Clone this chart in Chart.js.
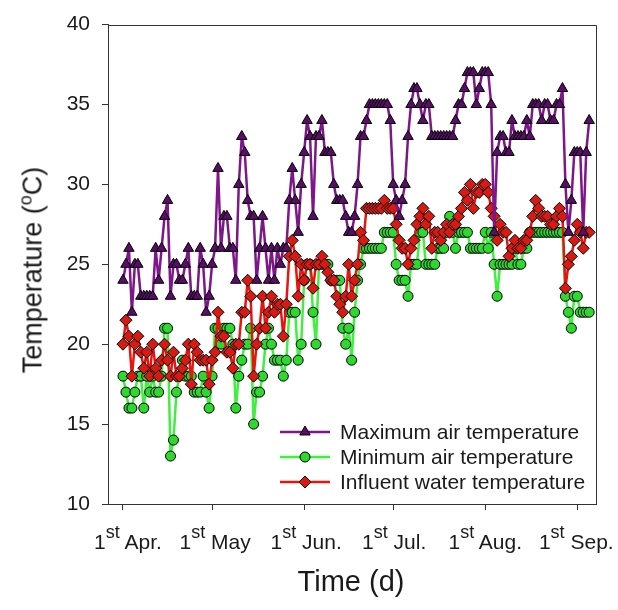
<!DOCTYPE html>
<html>
<head>
<meta charset="utf-8">
<script src="https://cdn.jsdelivr.net/npm/chart.js@4.4.1/dist/chart.umd.min.js"></script>
<style>
  html, body { margin: 0; padding: 0; background: #fff; }
  #wrap { position: relative; width: 618px; height: 610px; font-family: 'Liberation Sans', Arial, sans-serif; color: #1a1a1a; overflow: hidden; }
  canvas { position: absolute; left: 0; top: 0; }
  .xlab { position: absolute; top: 531px; font-size: 21px; line-height: 22px; white-space: nowrap; transform: translateX(-50%); }
  .sup { position: relative; font-size: 18px; top: -11px; }
  #ytitle { position: absolute; left: 34px; top: 270px; font-size: 27px; line-height: 30px; white-space: nowrap; transform: translate(-50%, -50%) rotate(-90deg); }
  #ytitle .sup { font-size: 18px; top: -10px; }
  #xtitle { position: absolute; left: 351px; top: 565px; font-size: 29px; line-height: 32px; white-space: nowrap; transform: translateX(-50%); }
  .leg { position: absolute; left: 279px; height: 24px; white-space: nowrap; }
  .leg svg { position: absolute; left: 0; top: 0; }
  .leg span { position: absolute; left: 61px; top: 0; font-size: 21px; line-height: 24px; }
</style>
</head>
<body>
<div id="wrap">
  <canvas id="c" width="618" height="610"></canvas>
  <div id="ytitle">Temperature (<span class="sup">o</span>C)</div>
  <div id="xtitle">Time (d)</div>
</div>
<script>
// days counted from 1st April
const monthTickDays = [0, 30, 61, 91, 122, 153];
const monthTickLabels = ['Apr.', 'May', 'Jun.', 'Jul.', 'Aug.', 'Sep.'];
const yTicks = [10, 15, 20, 25, 30, 35, 40];

const seriesNames = ['Maximum air temperature', 'Minimum air temperature', 'Influent water temperature'];

// daily values, 1st Apr -> early Sep
const maxAir = [
  24, 25, 26, 22, 25, 25, 23, 23, 23, 23, 23, 26, 24, 26, 28, 29, 23, 25, 25, 24,
  24, 25, 26, 23, 23, 23, 26, 25, 22, 23, 25, 26, 31, 26, 28, 28, 26, 26, 24, 30,
  33, 32, 29, 28, 28, 24, 26, 28, 26, 24, 26, 24, 26, 25, 26, 26, 29, 31, 29, 27,
  30, 32, 34, 33, 28, 33, 33, 34, 32, 32, 32, 30, 29, 29, 29, 28, 27, 27, 28, 30,
  33, 33, 34, 35, 35, 35, 35, 35, 35, 35, 34, 30, 29, 28, 29, 30, 33, 35, 36, 36,
  35, 34, 35, 35, 33, 33, 33, 33, 33, 33, 33, 33, 34, 35, 35, 36, 37, 37, 37, 35,
  36, 37, 37, 37, 35, 27, 32, 33, 33, 32, 32, 34, 33, 33, 33, 33, 34, 33, 35, 35,
  35, 34, 35, 35, 34, 34, 35, 35, 36, 30, 27, 29, 32, 32, 32, 27, 32, 34
];
const minAir = [
  18, 17, 16, 16, 17, 18, 18, 16, 18, 17, 18, 17, 17, 18, 21, 21, 13, 14, 17, 18,
  19, 18, 18, 18, 17, 17, 17, 18, 17, 16, 18, 21, 21, 20, 21, 21, 21, 20, 16, 18,
  19, 20, 20, 21, 15, 17, 17, 18, 20, 21, 20, 19, 19, 19, 18, 19, 22, 22, 22, 19,
  20, 24, 25, 25, 22, 20, 25, 25, 25, 25, 24, 24, 24, 24, 21, 20, 21, 19, 22, 24,
  25, 26, 26, 26, 26, 26, 26, 26, 27, 27, 27, 27, 25, 24, 24, 24, 23, 25, 25, 25,
  27, 27, 25, 25, 25, 25, 26, 26, 26, 27, 28, 27, 26, 27, 27, 27, 27, 26, 26, 26,
  26, 26, 27, 26, 27, 25, 23, 25, 25, 25, 25, 25, 26, 25, 25, 26, 26, 27, 27, 27,
  27, 27, 27, 27, 27, 27, 27, 27, 27, 23, 22, 21, 23, 23, 22, 22, 22, 22
];
const influentWater = [
  20, 21.5, 20.5, 18, 20, 20.5, 19.5, 18.5, 19.5, 18, 20, 18.5, 18, 19, 20, 19, 18, 19.5, 18, 18,
  18.5, 19, 20, 17.5, 20, 19.5, 19, 19, 19, 17.5, 19, 19.5, 22, 20.5, 20.5, 19.5, 19.5, 18.5, 20, 20,
  22, 22, 24, 23, 18, 20, 21, 23, 21, 22, 23, 22, 22.5, 22.5, 20.5, 22.5, 25.5, 26.5, 25.5, 23,
  25, 24, 25, 25, 23.5, 25, 25, 25.5, 25, 24.5, 24, 24, 23, 22.5, 22, 23, 25, 23, 24, 25,
  27, 26.5, 28.5, 28.5, 28.5, 28.5, 28.5, 28.5, 29, 28.5, 28.5, 28.5, 27.5, 26.5, 26, 26, 25, 26, 26.5, 27.5,
  28, 28.5, 27.5, 28, 26, 27, 27, 26.5, 27, 27.5, 27, 27.5, 27.5, 28, 28.5, 29.5, 29, 30, 28.5, 29.5,
  29.5, 30, 30, 29.5, 28.5, 28, 26.5, 27.5, 27, 27, 25.5, 26, 26.5, 26, 26, 26.5, 26.5, 27, 28, 29,
  28.5, 28, 28, 28, 27.5, 27.5, 28, 28.5, 28, 23.5, 25, 25.5, 26.5, 27.5, 27, 26, 27, 27
];

const colors = {
  max: { line: '#7d1689', fill: '#5a0d68' },
  min: { line: '#3ff03f', fill: '#2ed82e' },
  water: { line: '#e8140e', fill: '#d81a12' }
};

// small nudges of the month labels, as placed in the original
const labelShift = [5, 3, 2, 1, 0, -1];

const toPoints = arr => arr.map((v, i) => ({ x: i, y: v }));

const framePlugin = {
  id: 'frame',
  afterDatasetsDraw(chart) {
    const { ctx, chartArea: a } = chart;
    ctx.save();
    ctx.strokeStyle = '#333';
    ctx.lineWidth = 1;
    ctx.beginPath();
    ctx.moveTo(a.left, Math.round(a.top) + 0.5);
    ctx.lineTo(Math.round(a.right) + 0.5, Math.round(a.top) + 0.5);
    ctx.lineTo(Math.round(a.right) + 0.5, a.bottom);
    ctx.stroke();
    ctx.restore();
  }
};

function ds(label, values, c, style, radius, order) {
  return {
    label, data: toPoints(values), order,
    borderColor: c.line, backgroundColor: c.fill, borderWidth: 2.5,
    borderJoinStyle: 'round', borderCapStyle: 'round',
    pointStyle: style, pointRadius: radius, pointBackgroundColor: c.fill,
    pointBorderColor: '#000', pointBorderWidth: 1, tension: 0
  };
}

const axisCommon = {
  grid: { drawOnChartArea: false, tickLength: 6, tickColor: '#333', tickWidth: 1 },
  border: { color: '#333', width: 1 }
};

const chart = new Chart(document.getElementById('c'), {
  type: 'line',
  data: {
    datasets: [
      ds(seriesNames[0], maxAir, colors.max, 'triangle', 6, 0),
      ds(seriesNames[1], minAir, colors.min, 'circle', 5, 2),
      ds(seriesNames[2], influentWater, colors.water, 'rectRot', 6, 1)
    ]
  },
  options: {
    responsive: false,
    animation: false,
    layout: { padding: { left: 0, right: 22, top: 16, bottom: 0 } },
    plugins: { legend: { display: false }, tooltip: { enabled: false } },
    scales: {
      x: {
        type: 'linear', min: -5.05, max: 159.3,
        afterBuildTicks: s => { s.ticks = monthTickDays.map(v => ({ value: v })); },
        afterFit: s => { s.height = 106; },
        ticks: { display: false },
        ...axisCommon
      },
      y: {
        min: 10, max: 40,
        afterBuildTicks: s => { s.ticks = yTicks.map(v => ({ value: v })); },
        afterFit: s => { s.width = 108; },
        ticks: { padding: 12, color: '#1a1a1a', font: { size: 21, family: "'Liberation Sans', Arial" } },
        ...axisCommon
      }
    }
  },
  plugins: [framePlugin]
});

// month labels with superscript, placed on the x scale's own tick positions
const wrap = document.getElementById('wrap');
const xs = chart.scales.x;
monthTickDays.forEach((d, i) => {
  const el = document.createElement('div');
  el.className = 'xlab';
  el.innerHTML = '1<span class="sup">st</span> ' + monthTickLabels[i];
  el.style.left = (xs.getPixelForValue(d) + labelShift[i]) + 'px';
  wrap.appendChild(el);
});

// legend inside the plot
const legendRows = [
  { c: colors.max, shape: 'tri', cy: 432 },
  { c: colors.min, shape: 'circ', cy: 457 },
  { c: colors.water, shape: 'dia', cy: 482 }
];
legendRows.forEach((r, i) => {
  let mark;
  if (r.shape === 'tri') mark = `<polygon points="26,6 31.2,15 20.8,15" fill="${r.c.fill}" stroke="#000" stroke-width="1"/>`;
  else if (r.shape === 'circ') mark = `<circle cx="26" cy="12" r="5" fill="${r.c.fill}" stroke="#000" stroke-width="1"/>`;
  else mark = `<polygon points="26,6 32,12 26,18 20,12" fill="${r.c.fill}" stroke="#000" stroke-width="1"/>`;
  const el = document.createElement('div');
  el.className = 'leg';
  el.style.top = (r.cy - 12) + 'px';
  el.innerHTML = `<svg width="54" height="24"><line x1="1" y1="12" x2="51" y2="12" stroke="${r.c.line}" stroke-width="2.5"/>${mark}</svg><span>${seriesNames[i]}</span>`;
  wrap.appendChild(el);
});
</script>
</body>
</html>
